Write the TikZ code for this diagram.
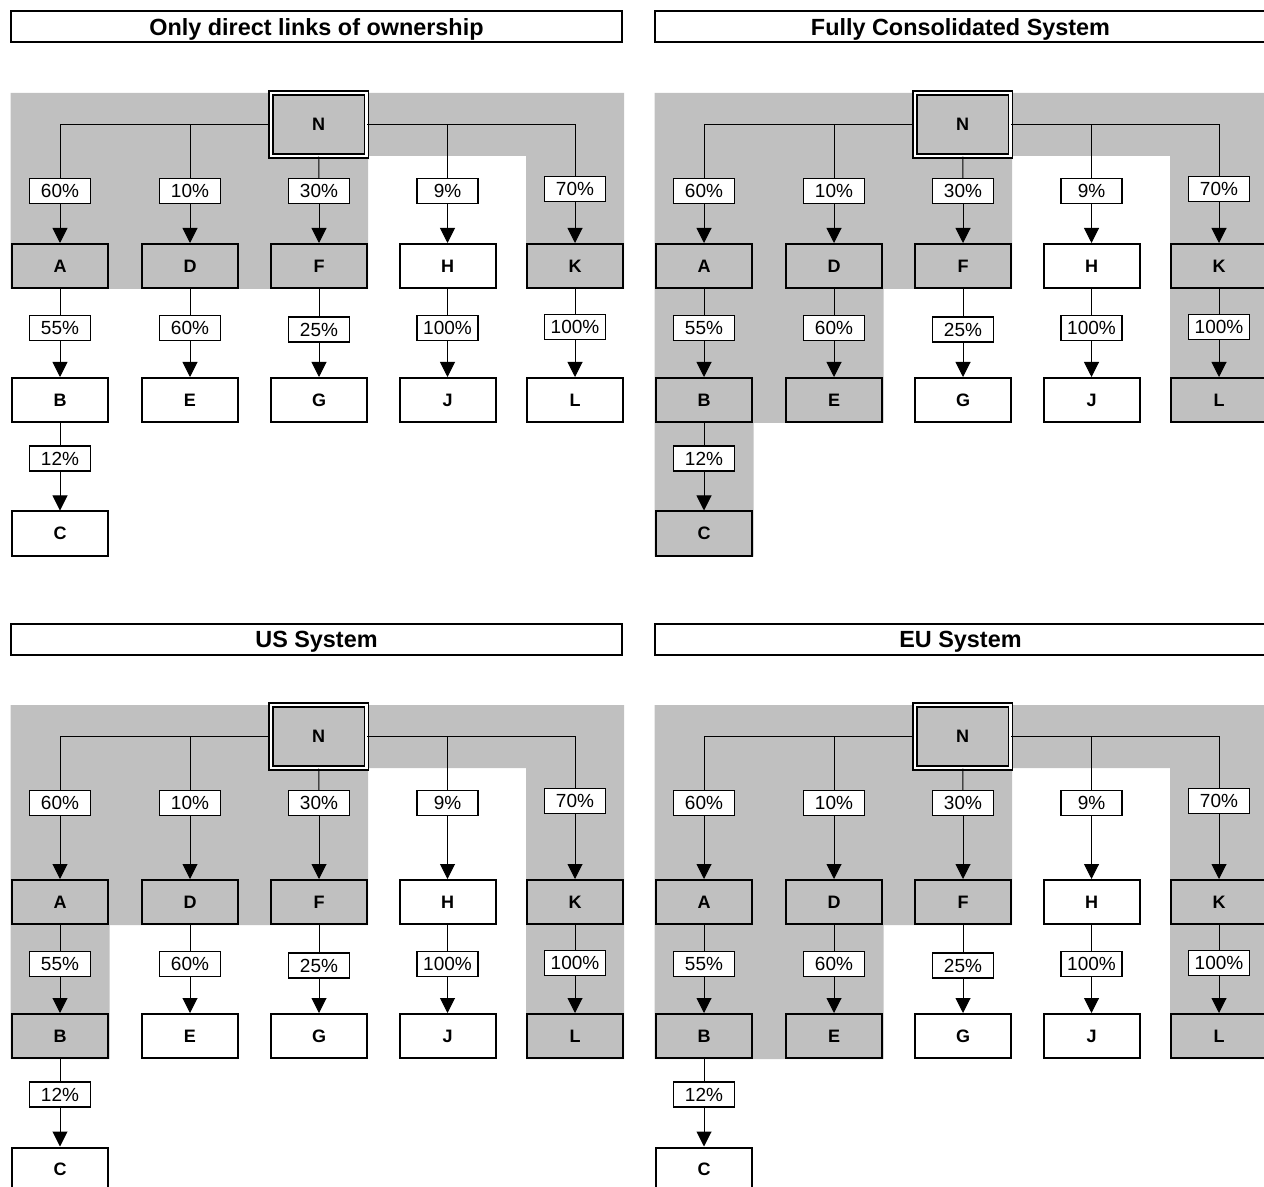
\documentclass[tikz,border=0pt]{standalone}
\usepackage{fontspec}
\setmainfont{Liberation Sans}
\usetikzlibrary{arrows.meta}
\definecolor{holding}{RGB}{192,192,192}

\begin{document}
\begin{tikzpicture}[
            x=0.5pt,
            y=-0.5pt,
            every node/.style={
              inner sep=0pt,
              font=\fontsize{9}{10}\selectfont\bfseries,
            },
            firm/.style={
              draw,
              line width=1pt,
              minimum width=48pt,
              minimum height=22pt,
            },
            parent/.style={
              firm,
              double,
              line width=0.8pt,
              double distance=1.2pt,
              minimum width=47.8pt,
              minimum height=31.4pt,
            },
            share/.style={
              draw,
              fill=white,
              line width=0.6pt,
              minimum width=30.5pt,
              minimum height=12.5pt,
              font=\fontsize{9.5}{10}\selectfont,
            },
            heading/.style={
              draw,
              line width=1pt,
              minimum width=305.5pt,
              minimum height=15.5pt,
              text height=8.4pt,
              text depth=0pt,
              font=\fontsize{11.7}{12}\selectfont\bfseries,
            },
            line width=0.5pt,
            >={Triangle[length=7.5pt,width=7.5pt]},
          ]
          \useasboundingbox (0,0) rectangle (1264,1187) ;
          \fill[holding] (10.5,93) -- (624,93) -- (624,289) -- (526,289) -- (526,156) -- (368,156) -- (368,289) -- (10.5,289) -- cycle ;
          \fill[holding] (654.5,93) -- (1268,93) -- (1268,423) -- (1170,423) -- (1170,156) -- (1012,156) -- (1012,289) -- (883.5,289) -- (883.5,423) -- (753.5,423) -- (753.5,556.5) -- (654.5,556.5) -- cycle ;
          \fill[holding] (10.5,705) -- (624,705) -- (624,1059) -- (526,1059) -- (526,768) -- (368,768) -- (368,925) -- (109.5,925) -- (109.5,1059) -- (10.5,1059) -- cycle ;
          \fill[holding] (654.5,705) -- (1268,705) -- (1268,1059) -- (1170,1059) -- (1170,768) -- (1012,768) -- (1012,925) -- (883.5,925) -- (883.5,1059) -- (654.5,1059) -- cycle ;
          \foreach \dx/\dy/\drop/\pnl/\txt in {0/0/0/1/Only direct links of ownership, 644/0/0/2/Fully Consolidated System, 0/612/24/3/US System, 644/612/24/4/EU System} {
          \begin{scope}[shift={(\dx,\dy)}]
          \node[heading] (T\pnl) at (316.5,27) {\txt} ;
          \node[parent] (N\pnl) at (318.5,124.5) {N} ;
          \node[firm] (A\pnl) at (60,266+\drop) {A} ;
          \node[firm] (D\pnl) at (190,266+\drop) {D} ;
          \node[firm] (F\pnl) at (319,266+\drop) {F} ;
          \node[firm] (H\pnl) at (447.5,266+\drop) {H} ;
          \node[firm] (K\pnl) at (575,266+\drop) {K} ;
          \node[firm] (B\pnl) at (60,400+\drop) {B} ;
          \node[firm] (E\pnl) at (190,400+\drop) {E} ;
          \node[firm] (G\pnl) at (319,400+\drop) {G} ;
          \node[firm] (J\pnl) at (447.5,400+\drop) {J} ;
          \node[firm] (L\pnl) at (575,400+\drop) {L} ;
          \node[firm] (C\pnl) at (60,533.5+\drop) {C} ;
          \node[share] (sA\pnl) at (60,191) {60\%} ;
          \node[share] (sD\pnl) at (190,191) {10\%} ;
          \node[share] (sF\pnl) at (319,191) {30\%} ;
          \node[share] (sH\pnl) at (447.5,191) {9\%} ;
          \node[share] (sK\pnl) at (575,189) {70\%} ;
          \node[share] (sB\pnl) at (60,328+\drop) {55\%} ;
          \node[share] (sE\pnl) at (190,328+\drop) {60\%} ;
          \node[share] (sG\pnl) at (319,329.5+\drop) {25\%} ;
          \node[share] (sJ\pnl) at (447.5,328+\drop) {100\%} ;
          \node[share] (sL\pnl) at (575,327+\drop) {100\%} ;
          \node[share] (sC\pnl) at (60,458.5+\drop) {12\%} ;
          \draw (N\pnl.west) -| (sA\pnl) ;
          \draw (N\pnl.west) -| (sD\pnl) ;
          \draw (N\pnl) -- (sF\pnl) ;
          \draw (N\pnl.east) -| (sH\pnl) ;
          \draw (N\pnl.east) -| (sK\pnl) ;
          \draw (A\pnl) -- (sB\pnl) ;
          \draw (D\pnl) -- (sE\pnl) ;
          \draw (F\pnl) -- (sG\pnl) ;
          \draw (H\pnl) -- (sJ\pnl) ;
          \draw (K\pnl) -- (sL\pnl) ;
          \draw (B\pnl) -- (sC\pnl) ;
          \foreach \co in {A,D,F,H,K,B,E,G,J,L,C}
            \draw[->] (s\co\pnl) -- (\co\pnl) ;
          \end{scope}
          }
          \end{tikzpicture}
\end{document}
